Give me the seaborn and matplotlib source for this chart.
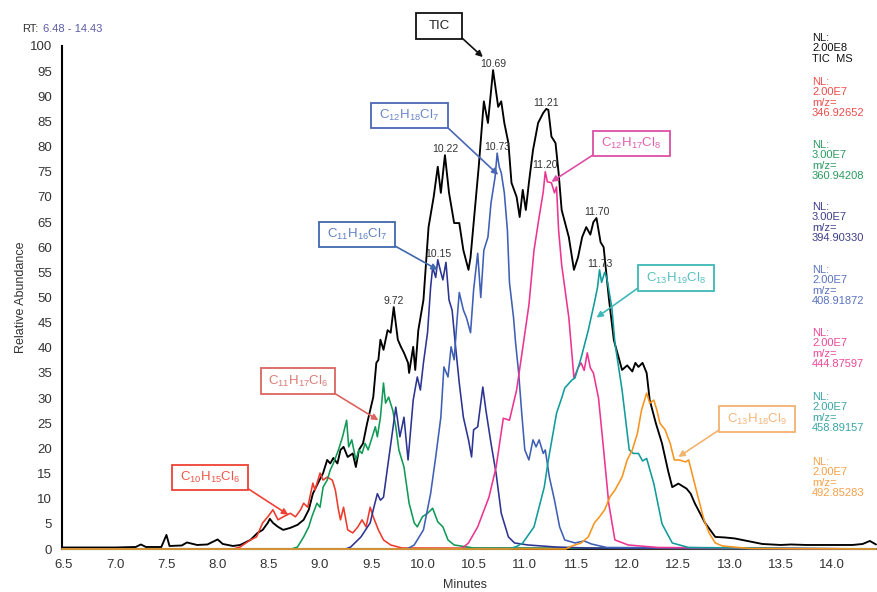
import numpy as np
import pandas as pd
import matplotlib
matplotlib.use("Agg")
import matplotlib.pyplot as plt
from matplotlib.patches import Rectangle
import seaborn as sns

# ---------------- data: retention time (min) / relative abundance (%) ----------------
tic_t = [6.48, 6.8, 7.0, 7.2, 7.25, 7.3, 7.45, 7.5, 7.53, 7.65, 7.7, 7.8, 7.9, 8.0, 8.05, 8.15,
         8.22, 8.32, 8.39, 8.44, 8.49, 8.51, 8.54, 8.59, 8.64, 8.71, 8.78, 8.84, 8.89, 8.93, 8.98,
         9.03, 9.07, 9.10, 9.13, 9.17, 9.20, 9.23, 9.27, 9.32, 9.35, 9.38, 9.42, 9.46, 9.49, 9.52,
         9.55, 9.57, 9.59, 9.62, 9.66, 9.69, 9.72, 9.76, 9.79, 9.82, 9.86, 9.87, 9.91, 9.93, 9.96,
         10.01, 10.06, 10.11, 10.15, 10.18, 10.22, 10.26, 10.31, 10.36, 10.40, 10.45, 10.47, 10.50,
         10.55, 10.60, 10.64, 10.69, 10.74, 10.77, 10.80, 10.84, 10.87, 10.92, 10.95, 10.98, 11.01,
         11.04, 11.08, 11.13, 11.18, 11.21, 11.23, 11.26, 11.30, 11.33, 11.36, 11.43, 11.48, 11.52,
         11.56, 11.60, 11.64, 11.67, 11.70, 11.74, 11.77, 11.82, 11.87, 11.95, 12.00, 12.05, 12.08,
         12.11, 12.15, 12.19, 12.22, 12.28, 12.34, 12.40, 12.44, 12.50, 12.58, 12.62, 12.66, 12.76,
         12.86, 12.95, 13.05, 13.20, 13.32, 13.50, 13.60, 13.75, 14.00, 14.20, 14.30, 14.37, 14.43]
tic_v = [0.3, 0.3, 0.3, 0.4, 0.9, 0.4, 0.4, 2.8, 0.6, 0.7, 1.3, 0.8, 0.9, 1.9, 1.0, 0.6,
         0.8, 1.8, 3.2, 3.8, 5.2, 6.0, 5.2, 4.4, 3.8, 4.2, 4.8, 5.8, 7.8, 11.0, 13.1,
         15.1, 17.7, 17.0, 18.1, 17.0, 19.7, 20.3, 18.3, 19.0, 16.3, 19.7, 21.0, 25.0, 27.6, 30.2,
         37.0, 37.6, 41.6, 39.6, 43.5, 43.0, 48.1, 41.6, 40.2, 39.0, 37.0, 35.0, 40.2, 35.6, 43.5,
         49.5, 64.0, 70.0, 76.0, 70.8, 78.3, 70.8, 64.8, 64.8, 59.4, 55.5, 58.0, 64.8,
         76.0, 89.0, 84.7, 95.2, 87.9, 89.0, 84.7, 80.7, 72.8, 70.0, 66.0, 71.4, 67.4,
         72.8, 79.3, 84.7, 86.7, 87.5, 87.3, 82.0, 80.7, 74.8, 67.4, 62.0, 55.5, 58.0,
         62.0, 64.0, 62.5, 65.0, 65.8, 61.0, 60.0, 50.0, 41.5, 35.6, 36.5, 35.3, 37.0,
         36.2, 37.0, 35.0, 29.6, 25.0, 21.0, 15.5, 12.3, 13.0, 12.0, 11.0, 9.1, 5.2,
         2.4, 2.3, 2.1, 1.5, 1.0, 0.8, 0.9, 0.8, 0.8, 0.8, 1.0, 1.6, 0.9]

c10_t = [6.48, 8.15, 8.22, 8.32, 8.38, 8.44, 8.49, 8.54, 8.59, 8.64, 8.71, 8.76, 8.81, 8.84, 8.88,
         8.93, 8.95, 9.00, 9.03, 9.07, 9.12, 9.15, 9.18, 9.20, 9.23, 9.27, 9.32, 9.37, 9.41, 9.45,
         9.49, 9.52, 9.57, 9.62, 9.69, 9.80, 14.43]
c10_v = [0.0, 0.0, 0.4, 1.8, 2.4, 5.2, 6.4, 7.8, 5.8, 6.4, 7.1, 6.4, 7.8, 9.1, 8.3,
         13.1, 11.7, 15.1, 13.7, 14.3, 13.7, 11.7, 7.8, 5.8, 8.3, 3.8, 3.2, 4.4, 5.8, 4.4,
         8.3, 6.4, 3.8, 1.8, 0.8, 0.2, 0.0]

c11a_t = [6.48, 8.72, 8.78, 8.84, 8.89, 8.92, 8.97, 9.00, 9.03, 9.07, 9.10, 9.13, 9.18, 9.22, 9.26,
          9.28, 9.31, 9.35, 9.38, 9.41, 9.44, 9.47, 9.51, 9.54, 9.56, 9.59, 9.62, 9.64, 9.67, 9.71,
          9.74, 9.77, 9.82, 9.87, 9.92, 9.95, 10.00, 10.05, 10.10, 10.15, 10.20, 10.25, 10.31,
          10.50, 14.43]
c11a_v = [0.0, 0.0, 0.4, 2.4, 4.4, 6.4, 9.1, 8.3, 12.3, 13.7, 15.7, 17.0, 19.7, 22.3, 25.6,
          20.3, 21.7, 17.7, 19.7, 19.0, 21.0, 19.7, 22.3, 24.3, 22.3, 26.2, 33.0, 29.0, 30.2, 27.6,
          24.3, 19.7, 16.3, 9.1, 5.2, 4.4, 6.4, 7.1, 8.1, 5.4, 4.4, 1.8, 0.8,
          0.2, 0.0]

c11b_t = [6.48, 9.25, 9.30, 9.40, 9.49, 9.52, 9.56, 9.59, 9.62, 9.66, 9.71, 9.74, 9.78, 9.82, 9.86,
          9.91, 9.95, 9.98, 10.01, 10.05, 10.08, 10.10, 10.13, 10.15, 10.18, 10.20, 10.23, 10.26,
          10.29, 10.32, 10.36, 10.40, 10.45, 10.48, 10.50, 10.54, 10.59, 10.62, 10.67, 10.72,
          10.77, 10.84, 10.90, 11.03, 11.30, 11.60, 14.43]
c11b_v = [0.0, 0.0, 0.4, 2.4, 5.2, 7.8, 11.0, 9.7, 10.3, 16.3, 23.7, 28.2, 22.3, 26.2, 17.7,
          29.6, 34.2, 31.6, 37.0, 43.0, 52.0, 56.0, 54.0, 57.5, 55.0, 53.5, 57.0, 49.5,
          47.5, 41.0, 33.0, 26.2, 21.7, 18.3, 23.7, 24.3, 32.2, 27.6, 21.0, 15.0,
          7.1, 2.4, 1.2, 0.8, 0.4, 0.2, 0.0]

c12a_t = [6.48, 9.85, 9.92, 10.01, 10.08, 10.13, 10.18, 10.21, 10.25, 10.28, 10.31, 10.34, 10.36,
          10.40, 10.43, 10.47, 10.50, 10.54, 10.57, 10.60, 10.64, 10.67, 10.71, 10.73, 10.75,
          10.77, 10.80, 10.83, 10.85, 10.89, 10.91, 10.94, 10.97, 11.00, 11.04, 11.08, 11.11,
          11.14, 11.18, 11.20, 11.24, 11.29, 11.34, 11.39, 11.49, 11.58, 11.65, 11.80, 14.43]
c12a_v = [0.0, 0.0, 0.8, 3.8, 11.0, 18.3, 26.2, 36.2, 34.2, 40.2, 37.6, 46.0, 51.0,
          47.5, 46.0, 43.0, 51.5, 58.8, 50.0, 59.4, 62.0, 68.8, 74.0, 78.7, 76.0,
          74.8, 70.8, 63.4, 53.0, 46.0, 41.0, 35.0, 27.0, 19.7, 17.7, 21.7, 20.3,
          21.7, 19.0, 19.7, 14.3, 9.7, 4.4, 1.8, 1.2, 1.6, 1.0, 0.3, 0.0]

c12b_t = [6.48, 10.38, 10.45, 10.54, 10.65, 10.72, 10.79, 10.85, 10.92, 10.98, 11.04, 11.09, 11.14,
          11.18, 11.20, 11.22, 11.26, 11.29, 11.31, 11.33, 11.36, 11.39, 11.43, 11.48, 11.52,
          11.55, 11.58, 11.61, 11.64, 11.67, 11.72, 11.77, 11.82, 11.88, 12.01, 12.30, 14.43]
c12b_v = [0.0, 0.0, 1.2, 4.4, 10.3, 16.3, 26.0, 25.6, 31.6, 40.0, 48.5, 59.4, 66.0,
          71.0, 75.0, 73.0, 72.8, 70.8, 72.0, 63.4, 56.5, 52.0, 46.0, 34.0, 36.0,
          37.0, 35.5, 39.0, 36.0, 35.0, 30.0, 19.7, 9.0, 1.8, 0.8, 0.3, 0.0]

c13a_t = [6.48, 10.85, 10.92, 10.98, 11.09, 11.19, 11.23, 11.31, 11.36, 11.39, 11.46, 11.49, 11.55,
          11.62, 11.68, 11.71, 11.73, 11.75, 11.78, 11.80, 11.85, 11.88, 11.95, 12.02, 12.06,
          12.11, 12.15, 12.19, 12.26, 12.34, 12.44, 12.60, 14.43]
c13a_v = [0.0, 0.0, 0.5, 1.2, 4.4, 12.3, 17.7, 27.0, 30.0, 32.0, 33.6, 34.0, 38.0,
          43.5, 49.0, 52.0, 55.5, 53.0, 55.0, 54.0, 48.0, 41.0, 31.6, 19.7, 19.0,
          19.0, 17.5, 18.0, 13.0, 5.0, 1.2, 0.3, 0.0]

c13b_t = [6.48, 11.40, 11.46, 11.55, 11.62, 11.68, 11.73, 11.78, 11.83, 11.88, 11.95, 12.00, 12.05,
          12.10, 12.14, 12.19, 12.22, 12.26, 12.29, 12.32, 12.37, 12.42, 12.46, 12.51, 12.57,
          12.60, 12.65, 12.70, 12.75, 12.80, 12.86, 12.93, 13.20, 14.43]
c13b_v = [0.0, 0.0, 0.6, 1.2, 2.4, 5.2, 6.4, 7.8, 10.3, 11.7, 14.3, 17.7, 19.7,
          23.0, 27.6, 31.0, 29.0, 29.6, 27.6, 25.0, 23.7, 21.0, 17.7, 17.7, 17.3,
          17.7, 13.7, 9.7, 5.8, 3.2, 1.2, 0.6, 0.1, 0.0]

trace_names = ["TIC", "C10H15Cl6", "C11H17Cl6", "C11H16Cl7", "C12H18Cl7",
               "C12H17Cl8", "C13H19Cl8", "C13H18Cl9"]
trace_times = [tic_t, c10_t, c11a_t, c11b_t, c12a_t, c12b_t, c13a_t, c13b_t]
trace_values = [tic_v, c10_v, c11a_v, c11b_v, c12a_v, c12b_v, c13a_v, c13b_v]
line_colors = ["#000000", "#ee3a2c", "#109a55", "#2b3490", "#3f5fb5", "#ec3491", "#119b9b", "#f7941d"]

# scan header blocks on the right (normalisation level and m/z)
nl_values = ["2.00E8", "2.00E7", "3.00E7", "3.00E7", "2.00E7", "2.00E7", "2.00E7", "2.00E7"]
mz_values = [None, "346.92652", "360.94208", "394.90330", "408.91872", "444.87597", "458.89157", "492.85283"]
nl_colors = ["#111111", "#ef4b4b", "#2a9a60", "#3e3e8a", "#5a73c0", "#ec4898", "#3aa5a5", "#f7a04a"]

# apex labels: (trace, retention time)
apex_trace = ["TIC", "TIC", "TIC", "TIC", "TIC", "C11H16Cl7", "C12H18Cl7", "C12H17Cl8", "C13H19Cl8"]
apex_time = [9.72, 10.22, 10.69, 11.21, 11.70, 10.15, 10.73, 11.20, 11.73]

# formula call-outs
box_labels = ["TIC", r"C$_{12}$H$_{18}$Cl$_{7}$", r"C$_{12}$H$_{17}$Cl$_{8}$", r"C$_{11}$H$_{16}$Cl$_{7}$",
              r"C$_{13}$H$_{19}$Cl$_{8}$", r"C$_{11}$H$_{17}$Cl$_{6}$", r"C$_{13}$H$_{18}$Cl$_{9}$",
              r"C$_{10}$H$_{15}$Cl$_{6}$"]
box_edge = ["#111111", "#4a66b5", "#dd4fa5", "#3f68ad", "#3fb8b8", "#d9655f", "#f3b26e", "#ee4236"]
box_text = ["#222222", "#6a86c8", "#df5fae", "#5f80c0", "#55c0c0", "#da7a74", "#f4b67a", "#ee5548"]
# arrow tip in data coordinates (time, abundance)
box_target_t = [10.59, 10.74, 11.26, 10.15, 11.70, 9.57, 12.50, 8.69]
box_target_v = [97.8, 74.4, 73.0, 55.5, 46.0, 25.6, 18.3, 6.8]

# ---------------- figure ----------------
W, H = 878, 592
sns.set_style("white")
plt.rcParams["font.family"] = ["Liberation Sans", "DejaVu Sans"]
plt.rcParams["mathtext.fontset"] = "custom"
plt.rcParams["mathtext.rm"] = "Liberation Sans"
plt.rcParams["mathtext.it"] = "Liberation Sans:italic"
plt.rcParams["mathtext.bf"] = "Liberation Sans:bold"

fig = plt.figure(figsize=(W / 100, H / 100), dpi=100)
fig.patch.set_facecolor("white")


def fpos(x, y):
    """pixel position (from top-left) -> figure fraction"""
    return x / W, 1 - y / H


ax_l, ax_r, ax_t, ax_b = 62, 876, 46, 549
ax = fig.add_axes([ax_l / W, 1 - ax_b / H, (ax_r - ax_l) / W, (ax_b - ax_t) / H])
ax.set_facecolor("white")

frames = []
for name, t, v in zip(trace_names, trace_times, trace_values):
    frames.append(pd.DataFrame({"time": t, "abundance": v, "trace": name}))
df = pd.concat(frames, ignore_index=True)

# chromatogram traces, drawn above the axis spines so the zero baselines show
for name, col in zip(trace_names, line_colors):
    sub = df[df["trace"] == name]
    sns.lineplot(data=sub, x="time", y="abundance", color=col, estimator=None, sort=False,
                 linewidth=1.35 if name == "TIC" else 1.15, ax=ax, legend=False,
                 clip_on=False, zorder=3)

ax.set_xlim(6.48, 14.43)
ax.set_ylim(0, 100)
ax.set_xticks(np.arange(6.5, 14.01, 0.5))
ax.set_xticklabels([f"{x:.1f}" for x in np.arange(6.5, 14.01, 0.5)])
ax.set_yticks(np.arange(0, 101, 5))
ax.set_xlabel("")
ax.set_ylabel("")
for s in ["top", "right"]:
    ax.spines[s].set_visible(False)
for s in ["left", "bottom"]:
    ax.spines[s].set_linewidth(1.5)
    ax.spines[s].set_color("black")
ax.tick_params(axis="both", direction="out", length=5, width=1.3, color="black",
               labelsize=9.5, labelcolor="#333333", pad=2)

# axis titles
fig.text(*fpos(465, 591), "Minutes", ha="center", va="bottom", fontsize=9, color="#333333")
fig.text(*fpos(21, 297), "Relative Abundance", ha="center", va="center", rotation=90,
         fontsize=9, color="#333333")

# retention-time range
fig.text(*fpos(22, 29), "RT:", ha="left", va="center", fontsize=8, color="#333333")
fig.text(*fpos(43, 29), "6.48 - 14.43", ha="left", va="center", fontsize=8, color="#5b5ba6")

# header blocks
block_top = [38, 82, 145, 207, 270, 333, 397, 462]
for i, (nl, mz, col) in enumerate(zip(nl_values, mz_values, nl_colors)):
    y0 = block_top[i]
    lines = ["NL:", nl] + (["TIC  MS"] if mz is None else ["m/z=", mz])
    offs = [0, 10, 21, 31]
    for ln, off in zip(lines, offs):
        fig.text(*fpos(812, y0 + off), ln, ha="left", va="center", fontsize=8, color=col)

# apex labels
for tr, t in zip(apex_trace, apex_time):
    k = trace_names.index(tr)
    v = float(np.interp(t, trace_times[k], trace_values[k]))
    ax.annotate(f"{t:.2f}", xy=(t, v), xytext=(0, 4.5), textcoords="offset points",
                ha="center", va="center", fontsize=7.5, color="#333333", zorder=4)

# call-out boxes with arrows
box_rects = [(416, 13, 462, 39), (371, 103, 448, 128), (593, 131, 670, 156), (319, 222, 395, 247),
             (638, 265, 714, 291), (261, 368, 335, 394), (719, 406, 795, 432), (172, 465, 248, 490)]
arrow_start = [(462, 38), (447, 127), (593, 155), (395, 246), (638, 288), (334, 393),
               (719, 430), (247, 488)]
for lab, ec, tc, (x0, y0, x1, y1), (sx, sy), tt, tv in zip(box_labels, box_edge, box_text, box_rects,
                                                           arrow_start, box_target_t, box_target_v):
    fx0, fy1 = fpos(x0, y1)
    fx1, fy0 = fpos(x1, y0)
    fig.patches.append(Rectangle((fx0, fy1), fx1 - fx0, fy0 - fy1, transform=fig.transFigure,
                                 fill=True, facecolor="white", edgecolor=ec, linewidth=1.3,
                                 zorder=5))
    fig.text((fx0 + fx1) / 2, (fy0 + fy1) / 2, lab, ha="center", va="center",
             fontsize=9.5, color=tc, zorder=6)
    ax.annotate("", xy=(tt, tv), xycoords="data", xytext=fpos(sx, sy),
                textcoords="figure fraction",
                arrowprops=dict(arrowstyle="-|>", color=ec, lw=1.2, shrinkA=0, shrinkB=0,
                                mutation_scale=9), annotation_clip=False, zorder=4)

fig.savefig("out.png", dpi=100, facecolor="white")
